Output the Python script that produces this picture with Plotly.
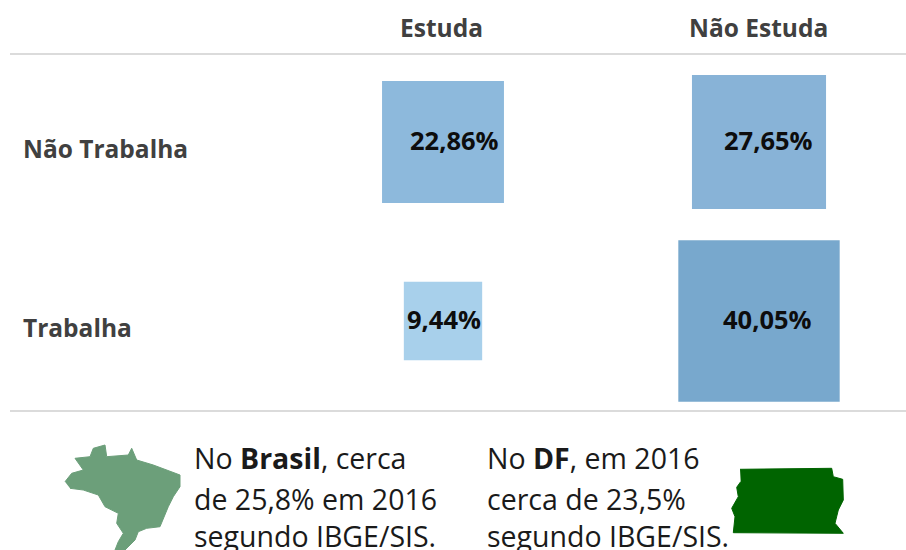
import math
import plotly.graph_objects as go

# Data
col_labels = ["Estuda", "Não Estuda"]
row_labels = ["Trabalha", "Não Trabalha"]
col_of_cell = ["Estuda", "Não Estuda", "Estuda", "Não Estuda"]
row_of_cell = ["Não Trabalha", "Não Trabalha", "Trabalha", "Trabalha"]
cell_values = [22.86, 27.65, 9.44, 40.05]
cell_labels = ["22,86%", "27,65%", "9,44%", "40,05%"]

brasil_note = ["No <b>Brasil</b>, cerca", "de 25,8% em 2016", "segundo IBGE/SIS."]
df_note = ["No <b>DF</b>, em 2016", "cerca de 23,5%", "segundo IBGE/SIS."]

# Map outlines (page pixels)
brasil_x = [65, 71.7, 83.3, 75, 90, 93.3, 105, 106.7, 128.3, 131.7, 136.7, 153.3, 180, 180, 173.3, 168.3, 160, 146.7, 138.3, 135, 125, 115, 118.3, 123.3, 116.7, 118.3, 105, 98.3, 83.3, 70]
brasil_y = [481.7, 473.3, 470, 458.3, 456.7, 448.3, 445, 456.7, 455, 448.3, 460, 465, 475, 486.7, 496.7, 506.7, 526.7, 528.3, 531.7, 540, 550, 550, 541.7, 533.3, 523.3, 513.3, 506.7, 495, 490, 488.3]
df_x = [740, 831.7, 833.3, 842.7, 843.3, 838.3, 835, 843.3, 733.3, 735, 731.7, 738.3, 736.7, 740.7]
df_y = [469.3, 468.3, 476.7, 479.3, 500, 510, 523.3, 533.3, 532.7, 516.7, 508.3, 496.7, 487.3, 481.7]

# Styles
square_colors = ["#8DB9DC", "#88B3D7", "#A8D0EB", "#78A8CD"]
label_shift = [11, 9, 1, 8]
side_per_sqrt = 25.5
FONT = "Open Sans"
W, H = 906, 550

fig = go.Figure()
fig.add_trace(go.Scatter(
    x=col_of_cell, y=row_of_cell, mode="markers", hoverinfo="skip",
    marker=dict(symbol="square", color=square_colors, opacity=1, line_width=0,
                size=[side_per_sqrt * math.sqrt(v) for v in cell_values]),
))
for xs, ys, color in [(brasil_x, brasil_y, "#6C9F7A"), (df_x, df_y, "#006400")]:
    fig.add_trace(go.Scatter(
        x=xs, y=ys, xaxis="x2", yaxis="y2", mode="lines", fill="toself",
        fillcolor=color, line=dict(color=color, width=1), hoverinfo="skip",
    ))

ann = []
for c, r, t, s in zip(col_of_cell, row_of_cell, cell_labels, label_shift):
    ann.append(dict(x=c, y=r, text=f"<b>{t}</b>", showarrow=False, xshift=s, yshift=2,
                    font=dict(family=FONT, size=25.5, color="#0d0d0d")))
for c, px in zip(col_labels, [441, 758]):
    ann.append(dict(x=px, y=27, xref="x2", yref="y2", text=f"<b>{c}</b>", showarrow=False,
                    font=dict(family=FONT, size=24.5, color="#404040")))
for r, py in zip(row_labels, [327, 148]):
    ann.append(dict(x=21, y=py, xref="x2", yref="y2", xanchor="left", text=f"<b>{r}</b>",
                    showarrow=False, font=dict(family=FONT, size=24.5, color="#404040")))
for lines, px in [(brasil_note, 192), (df_note, 485)]:
    for line, py in zip(lines, [458, 499, 536]):
        ann.append(dict(x=px, y=py, xref="x2", yref="y2", xanchor="left", text=line,
                        showarrow=False, font=dict(family=FONT, size=28.5, color="#1a1a1a")))

line_style = dict(color="#CFCFCF", width=1.5)
shapes = [dict(type="line", xref="x2", yref="y2", x0=10, x1=906, y0=py, y1=py, line=line_style)
          for py in [54, 411]]

fig.update_layout(
    width=W, height=H, margin=dict(l=0, r=0, t=0, b=0), autosize=False,
    plot_bgcolor="white", paper_bgcolor="white", showlegend=False,
    annotations=ann, shapes=shapes,
    xaxis=dict(type="category", categoryorder="array", categoryarray=col_labels,
               range=[-443 / 316, (W - 443) / 316], visible=False, domain=[0, 1]),
    yaxis=dict(type="category", categoryorder="array", categoryarray=row_labels,
               range=[-(H - 321) / 179, 1 + 142 / 179], visible=False, domain=[0, 1]),
    xaxis2=dict(range=[0, W], visible=False, overlaying="x", anchor="y2"),
    yaxis2=dict(range=[H, 0], visible=False, overlaying="y", anchor="x2"),
)
fig.write_html("out.html", config=dict(displayModeBar=False),
               post_script="document.body.style.margin='0';document.body.style.overflow='hidden';")
